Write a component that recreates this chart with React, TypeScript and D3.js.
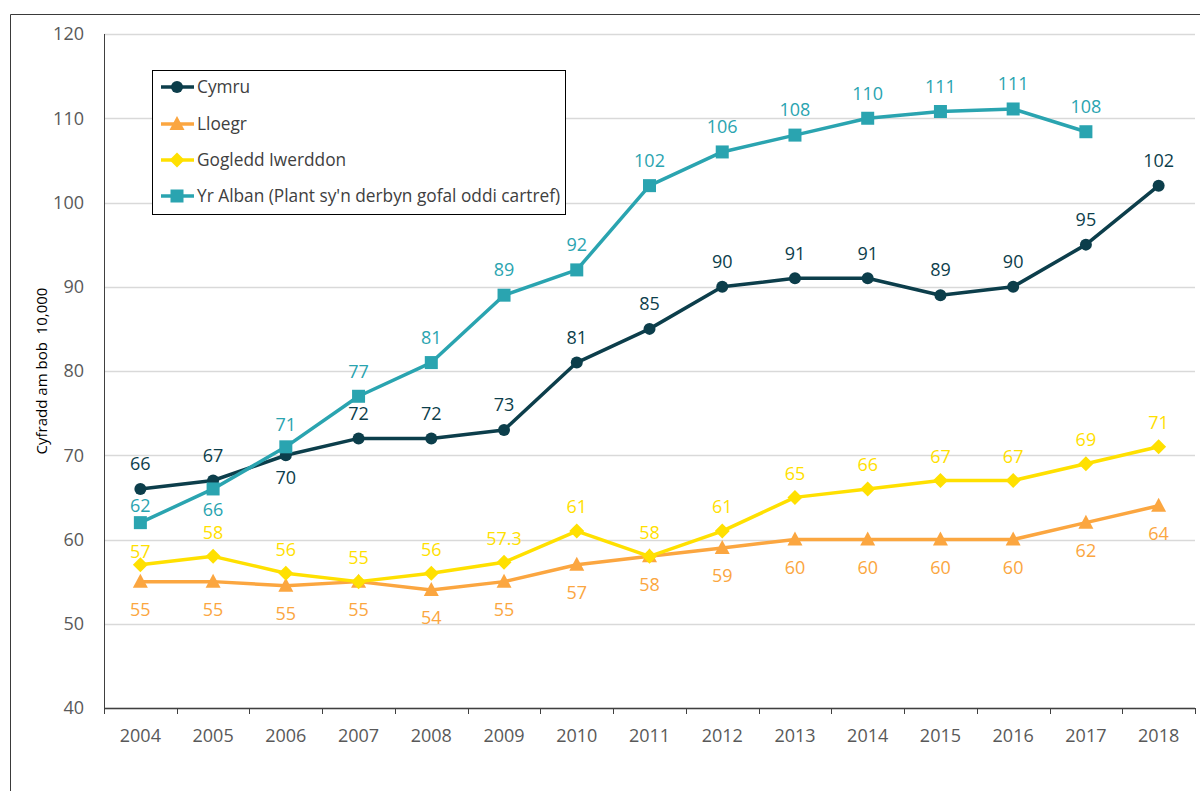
import React from "react";
import * as d3 from "d3";

const years = ["2004","2005","2006","2007","2008","2009","2010","2011","2012","2013","2014","2015","2016","2017","2018"];
const cymru: (number | null)[] = [66,67,70,72,72,73,81,85,90,91,91,89,90,95,102];
const lloegr: (number | null)[] = [55,55,54.5,55,54,55,57,58,59,60,60,60,60,62,64];
const gogledd: (number | null)[] = [57,58,56,55,56,57.3,61,58,61,65,66,67,67,69,71];
const alban: (number | null)[] = [62,66,71,77,81,89,92,102,106,108,110,110.8,111.1,108.4,null];

const cymruLabels = ["66","67","70","72","72","73","81","85","90","91","91","89","90","95","102"];
const lloegrLabels = ["55","55","55","55","54","55","57","58","59","60","60","60","60","62","64"];
const gogleddLabels = ["57","58","56","55","56","57.3","61","58","61","65","66","67","67","69","71"];
const albanLabels = ["62","66","71","77","81","89","92","102","106","108","110","111","111","108",""];

const yTicks = [40,50,60,70,80,90,100,110,120];
const seriesNames = ["Cymru","Lloegr","Gogledd Iwerddon","Yr Alban (Plant sy'n derbyn gofal oddi cartref)"];

type Series = {
  name: string; values: (number|null)[]; labels: string[]; color: string;
  marker: "circle"|"triangle"|"diamond"|"square"; dy: number; dyOver: Record<number, number>;
};

const series: Series[] = [
  { name: seriesNames[0], values: cymru, labels: cymruLabels, color: "#0c3e4b", marker: "circle", dy: -25, dyOver: { 2: 22 } },
  { name: seriesNames[1], values: lloegr, labels: lloegrLabels, color: "#fba640", marker: "triangle", dy: 28, dyOver: {} },
  { name: seriesNames[2], values: gogledd, labels: gogleddLabels, color: "#ffe000", marker: "diamond", dy: -24, dyOver: { 0: -13 } },
  { name: seriesNames[3], values: alban, labels: albanLabels, color: "#2aa4b0", marker: "square", dy: -25, dyOver: { 0: -17, 1: 21, 2: -22 } },
];

const FONT = "'Open Sans', Calibri, sans-serif";

function Marker({ type, x, y, color }: { type: string; x: number; y: number; color: string }) {
  if (type === "circle") return <circle cx={x} cy={y} r={6} fill={color} />;
  if (type === "square") return <rect x={x - 6.5} y={y - 6.5} width={13} height={13} fill={color} />;
  if (type === "diamond") return <path d={`M${x},${y - 7.5}L${x + 7.5},${y}L${x},${y + 7.5}L${x - 7.5},${y}Z`} fill={color} />;
  return <path d={`M${x},${y - 8}L${x + 7.5},${y + 6}L${x - 7.5},${y + 6}Z`} fill={color} />;
}

export default function App() {
  const W = 1200, H = 791;
  const left = 104, right = 1195, top = 34, bottom = 708;
  const x = d3.scaleBand<string>().domain(years).range([left, right]).padding(0);
  const y = d3.scaleLinear().domain([40, 120]).range([bottom, top]);
  const cx = (yr: string) => (x(yr) as number) + x.bandwidth() / 2;
  const line = d3.line<[string, number | null]>()
    .defined(d => d[1] !== null)
    .x(d => cx(d[0]))
    .y(d => y(d[1] as number));

  const legendX = 152, legendY = 70, legendW = 413, legendH = 144;
  const legendRows = [87, 124, 160, 196];

  return (
    <div style={{ position: "absolute", left: 0, top: 0 }}>
      <svg width={W} height={H} style={{ display: "block", fontFamily: FONT }}>
        <rect x={0} y={0} width={W} height={H} fill="#fff" />
        <path d={`M10.5,${H + 5}V14.5H${W + 5}`} fill="none" stroke="#3a3a3a" strokeWidth={1} />
        {yTicks.map(t => (
          <line key={t} x1={left} x2={right} y1={Math.round(y(t)) + 0.5} y2={Math.round(y(t)) + 0.5} stroke="#d9d9d9" strokeWidth={1.5} />
        ))}
        <line x1={left + 0.5} x2={left + 0.5} y1={top} y2={bottom} stroke="#404040" strokeWidth={1} />
        {yTicks.map(t => (
          <text key={t} x={84} y={y(t)} dy="0.35em" textAnchor="end" fontSize={18} fill="#595959">{t}</text>
        ))}
        <line x1={left} x2={right} y1={bottom + 0.5} y2={bottom + 0.5} stroke="#404040" strokeWidth={1.5} />
        {d3.range(years.length + 1).map(i => {
          const xx = Math.round(left + i * x.step()) + 0.5;
          return <line key={i} x1={xx} x2={xx} y1={bottom} y2={bottom + 6} stroke="#404040" strokeWidth={1} />;
        })}
        {years.map(yr => (
          <text key={yr} x={cx(yr)} y={736} dy="0.35em" textAnchor="middle" fontSize={18} fill="#595959">{yr}</text>
        ))}
        <text transform={`translate(42,${(top + bottom) / 2}) rotate(-90)`} dy="0.35em" textAnchor="middle" fontSize={15} fill="#000" style={{ whiteSpace: "pre" }}>
          {"Cyfradd am bob  10,000"}
        </text>
        {series.map(s => {
          const pts = years.map((yr, i) => [yr, s.values[i]] as [string, number | null]);
          return (
            <g key={s.name}>
              <path d={line(pts) || ""} fill="none" stroke={s.color} strokeWidth={3.5} strokeLinejoin="round" />
              {pts.filter(p => p[1] !== null).map(p => (
                <Marker key={p[0]} type={s.marker} x={cx(p[0])} y={y(p[1] as number)} color={s.color} />
              ))}
            </g>
          );
        })}
        {series.map(s => (
          <g key={s.name + "-l"}>
            {years.map((yr, i) => {
              const v = s.values[i];
              if (v === null) return null;
              const off = s.dyOver[i] !== undefined ? s.dyOver[i] : s.dy;
              return (
                <text key={yr} x={cx(yr)} y={y(v) + off} dy="0.35em" textAnchor="middle" fontSize={18} fill={s.color}>{s.labels[i]}</text>
              );
            })}
          </g>
        ))}
        <rect x={legendX + 0.5} y={legendY + 0.5} width={legendW} height={legendH} fill="#fff" stroke="#000" strokeWidth={1} />
        {series.map((s, i) => {
          const ly = legendRows[i];
          return (
            <g key={s.name + "-leg"}>
              <line x1={161} x2={194} y1={ly} y2={ly} stroke={s.color} strokeWidth={3.5} />
              <Marker type={s.marker} x={177} y={ly} color={s.color} />
              <text x={197} y={ly} dy="0.35em" fontSize={17.3} fill="#404040">{s.name}</text>
            </g>
          );
        })}
      </svg>
    </div>
  );
}
